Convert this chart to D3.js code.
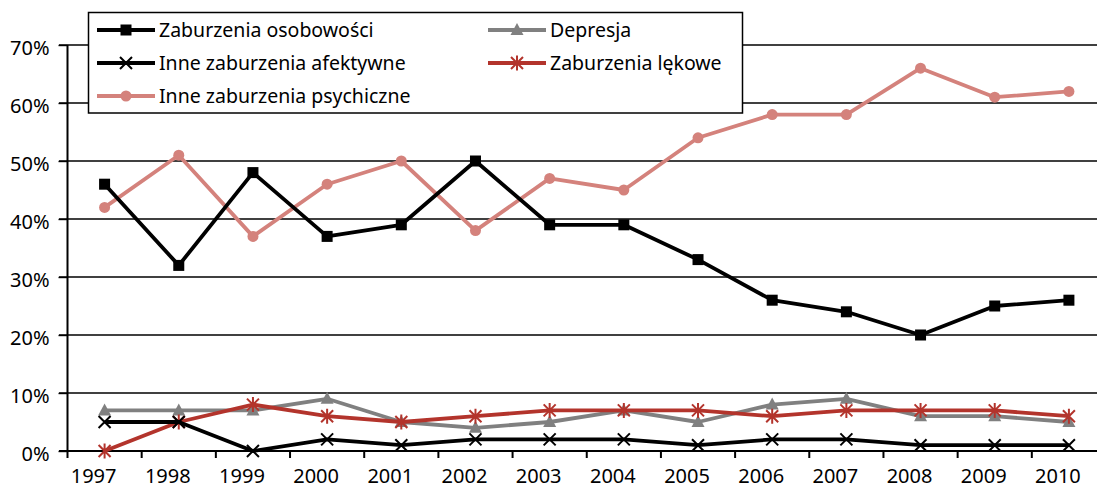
<!DOCTYPE html>
<html><head><meta charset="utf-8">
<script src="https://cdn.jsdelivr.net/npm/d3@7"></script>
<style>body{margin:0;background:#fff}svg{display:block}text{font-family:"Noto Sans",sans-serif;fill:#000}</style>
</head><body>
<svg id="c" width="1097" height="491"></svg>
<script>
const years = ["1997","1998","1999","2000","2001","2002","2003","2004","2005","2006","2007","2008","2009","2010"];
const yTicks = [0,10,20,30,40,50,60,70];
const osobowosci = [46,32,48,37,39,50,39,39,33,26,24,20,25,26];
const depresja = [7,7,7,9,5,4,5,7,5,8,9,6,6,5];
const afektywne = [5,5,0,2,1,2,2,2,1,2,2,1,1,1];
const lekowe = [0,5,8,6,5,6,7,7,7,6,7,7,7,6];
const psychiczne = [42,51,37,46,50,38,47,45,54,58,58,66,61,62];
const seriesNames = ["Zaburzenia osobowości","Depresja","Inne zaburzenia afektywne","Zaburzenia lękowe","Inne zaburzenia psychiczne"];

const series = [
  {name:seriesNames[0], values:osobowosci, color:"#000000", marker:"square"},
  {name:seriesNames[1], values:depresja, color:"#808080", marker:"triangle"},
  {name:seriesNames[2], values:afektywne, color:"#000000", marker:"x"},
  {name:seriesNames[3], values:lekowe, color:"#B3342C", marker:"star"},
  {name:seriesNames[4], values:psychiczne, color:"#D4827C", marker:"circle"}
];
const drawOrder = [4,0,1,3,2];

const svg = d3.select("#c");
const x = d3.scaleBand().domain(years).range([67.5,1106]);
const y = d3.scaleLinear().domain([0,70]).range([451,45]);
const cx = d => x(d)+x.bandwidth()/2;

// gridlines
svg.append("g").selectAll("line").data(yTicks.filter(t=>t>0)).join("line")
  .attr("x1",59).attr("x2",1097).attr("y1",d=>y(d)).attr("y2",d=>y(d))
  .attr("stroke","#000").attr("stroke-width",1.4);

// y axis
const ya = svg.append("g").attr("transform","translate(67.5,0)")
  .call(d3.axisLeft(y).tickValues(yTicks).tickFormat(d=>d+"%").tickSize(9).tickPadding(9));
ya.select(".domain").attr("d","M0,45V458").attr("stroke-width",2);
ya.selectAll(".tick line").attr("stroke-width",1.4);
ya.selectAll("text").attr("font-size",20).attr("font-family","Noto Sans").attr("dy","0.45em");

// x axis
const xa = svg.append("g").attr("transform","translate(0,451)");
xa.append("line").attr("x1",59).attr("x2",1097).attr("y1",0).attr("y2",0).attr("stroke","#000").attr("stroke-width",2);
xa.selectAll("line.t").data(years.slice(1)).join("line").attr("class","t")
  .attr("x1",d=>x(d)).attr("x2",d=>x(d)).attr("y1",0).attr("y2",7).attr("stroke","#000").attr("stroke-width",2);
xa.selectAll("text").data(years).join("text")
  .attr("x",d=>cx(d)-11).attr("y",32).attr("text-anchor","middle").attr("font-size",20).text(d=>d);

function marker(g, type, color, px, py){
  if(type==="square"){
    g.append("rect").attr("x",px-5.5).attr("y",py-5.5).attr("width",11).attr("height",11).attr("fill",color);
  } else if(type==="triangle"){
    g.append("path").attr("d",`M${px},${py-7}L${px+6.5},${py+5}L${px-6.5},${py+5}Z`).attr("fill",color);
  } else if(type==="circle"){
    g.append("circle").attr("cx",px).attr("cy",py).attr("r",5.5).attr("fill",color);
  } else if(type==="x"){
    g.append("path").attr("d",`M${px-6},${py-6}L${px+6},${py+6}M${px-6},${py+6}L${px+6},${py-6}`).attr("stroke",color).attr("stroke-width",2);
  } else if(type==="star"){
    g.append("path").attr("d",`M${px-6},${py-6}L${px+6},${py+6}M${px-6},${py+6}L${px+6},${py-6}M${px},${py-7.5}L${px},${py+7.5}`).attr("stroke",color).attr("stroke-width",2);
  }
}

const line = d3.line().x((d,i)=>cx(years[i])).y(d=>y(d));
drawOrder.forEach(k=>{
  const s = series[k];
  const g = svg.append("g");
  g.append("path").attr("d",line(s.values)).attr("fill","none").attr("stroke",s.color).attr("stroke-width",3.8).attr("stroke-linejoin","round");
  s.values.forEach((v,i)=>marker(g,s.marker,s.color,cx(years[i]),y(v)));
});

// legend
const lg = svg.append("g");
lg.append("rect").attr("x",88.5).attr("y",12.5).attr("width",654).attr("height",100.5).attr("fill","#fff").attr("stroke","#000").attr("stroke-width",1.5);
const pos = [[97,30],[488,30],[97,63],[488,63],[97,96]];
series.forEach((s,i)=>{
  const [lx,ly]=pos[i];
  lg.append("line").attr("x1",lx).attr("x2",lx+58).attr("y1",ly).attr("y2",ly).attr("stroke",s.color).attr("stroke-width",3.8);
  marker(lg,s.marker,s.color,lx+29,ly);
  lg.append("text").attr("x",lx+62).attr("y",ly).attr("dy","0.36em").attr("font-size",19.5).text(s.name);
});
</script>
</body></html>
